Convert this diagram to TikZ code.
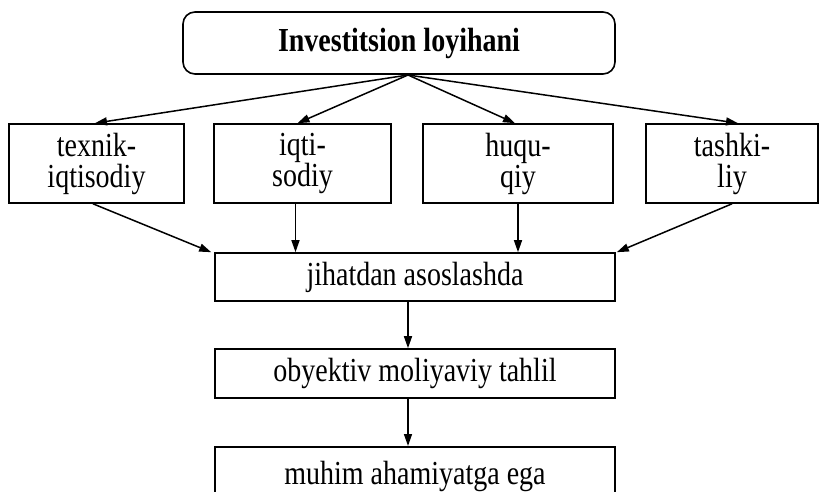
\documentclass[tikz,border=0pt]{standalone}
\usepackage{fontspec}
\usepackage{graphicx}
\setmainfont{Liberation Serif}
\usetikzlibrary{arrows.meta,calc}
\newcommand\vst[1]{\scalebox{1}[1.2]{#1}}
\begin{document}
\begin{tikzpicture}[x=1pt,y=1pt,
  box/.style={draw,line width=1.6pt,inner sep=0pt,align=center,
    font=\fontsize{28}{31}\selectfont},
  arr/.style={line width=1.5pt,-{Triangle[length=12pt,width=8pt]}}]
\useasboundingbox (0,0) rectangle (819,-492);
\node[box,rounded corners=12pt,minimum width=432,minimum height=62,font=\fontsize{28}{32}\selectfont\bfseries] (top) at (399,-43) {\raisebox{2pt}{\vst{Investitsion loyihani}}};
\coordinate (src) at (408,-75);
\node[box,minimum width=175,minimum height=79] (b1) at (96.5,-163.5) {\vst{texnik-}\\\vst{iqtisodiy}};
\node[box,minimum width=177,minimum height=79] (b2) at (302.5,-163.5) {\vst{iqti-}\\\vst{sodiy}};
\node[box,minimum width=190,minimum height=79] (b3) at (518,-163.5) {\vst{huqu-}\\\vst{qiy}};
\node[box,minimum width=172,minimum height=79] (b4) at (732,-163.5) {\vst{tashki-}\\\vst{liy}};
\node[box,minimum width=400,minimum height=48] (j) at (415,-277) {\vst{jihatdan asoslashda}};
\node[box,minimum width=400,minimum height=49] (o) at (415,-373.5) {\vst{obyektiv moliyaviy tahlil}};
\node[box,minimum width=400,minimum height=60,anchor=north] (m) at (415,-446) {\vst{muhim ahamiyatga ega}};
\draw[arr] (src) -- ([xshift=-1.5pt]b1.north);
\draw[arr] (src) -- ([xshift=-5pt]b2.north);
\draw[arr] (src) -- ([xshift=-3pt]b3.north);
\draw[arr] (src) -- ([xshift=6pt]b4.north);
\draw[arr] ([xshift=-3.5pt]b1.south) -- ([xshift=-3pt]j.north west);
\draw[arr] ([xshift=-7pt]b2.south) -- ([xshift=-7pt]b2.south |- j.north);
\draw[arr] (b3.south) -- (b3.south |- j.north);
\draw[arr] (b4.south) -- ([xshift=1pt]j.north east);
\draw[arr] ([xshift=-7pt]j.south) -- ([xshift=-7pt]o.north);
\draw[arr] ([xshift=-7pt]o.south) -- ([xshift=-7pt]m.north);
\end{tikzpicture}
\end{document}
